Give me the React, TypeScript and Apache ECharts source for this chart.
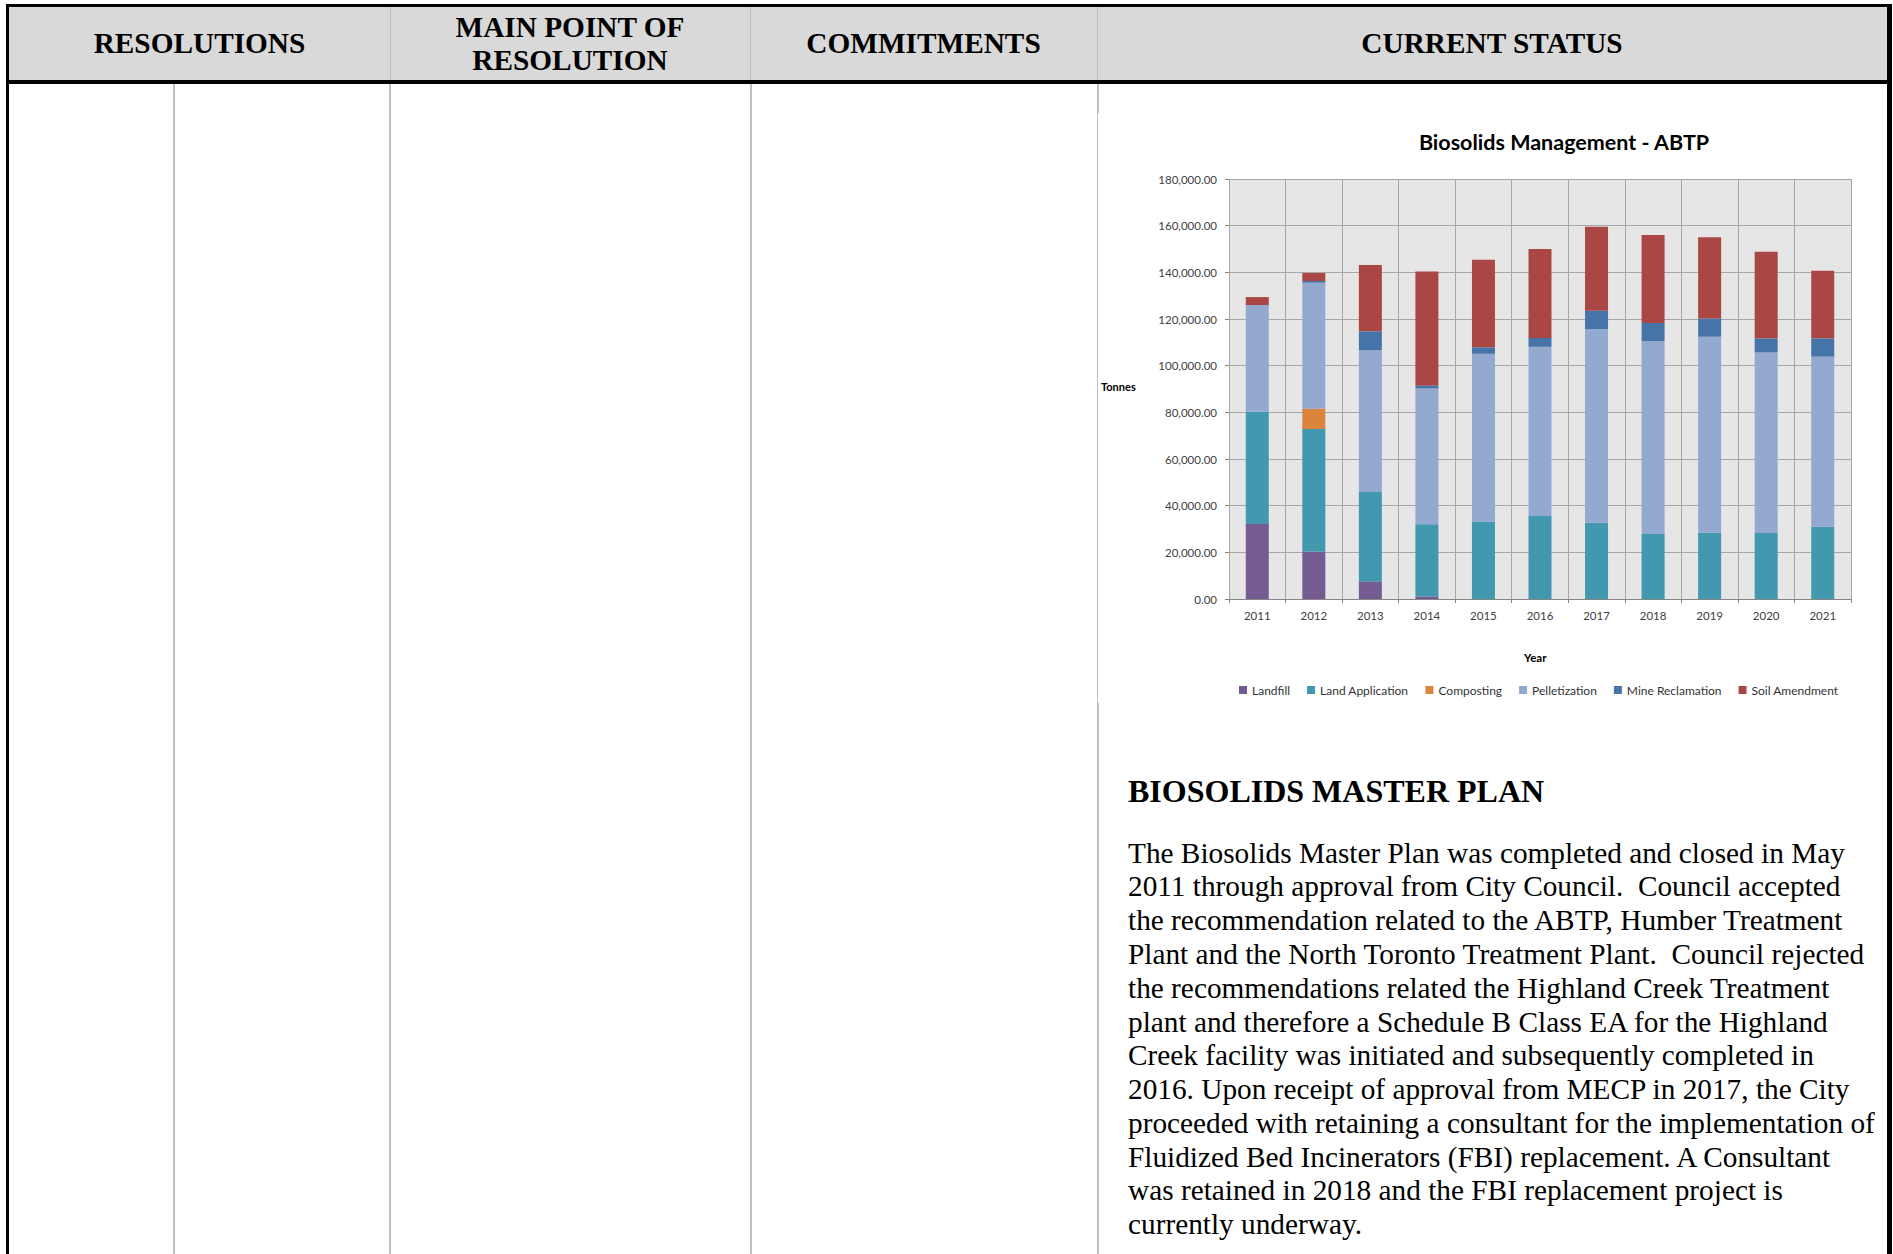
import React, { useEffect, useRef } from "react";
import * as echarts from "echarts";

const years = ["2011", "2012", "2013", "2014", "2015", "2016", "2017", "2018", "2019", "2020", "2021"];
const landfill = [32100, 20400, 7550, 1100, 0, 0, 0, 0, 0, 0, 0];
const landApplication = [48300, 52450, 38300, 30900, 33100, 35550, 32700, 27850, 28400, 28300, 31000];
const composting = [0, 8700, 0, 0, 0, 0, 0, 0, 0, 0, 0];
const pelletization = [45600, 54000, 60700, 58270, 72000, 72550, 82850, 82720, 84000, 77400, 72850];
const mineReclamation = [0, 750, 8150, 1280, 2750, 3750, 8000, 7730, 7860, 6000, 7850];
const soilAmendment = [3400, 3400, 28400, 48850, 37550, 38150, 36000, 37700, 34740, 37150, 29000];

const seriesNames = ["Landfill", "Land Application", "Composting", "Pelletization", "Mine Reclamation", "Soil Amendment"];
const seriesColors = ["#745b91", "#4198af", "#db843d", "#93a9cf", "#4673a8", "#aa4643"];
const seriesData = [landfill, landApplication, composting, pelletization, mineReclamation, soilAmendment];

const headerCols = [
  { left: 9, right: 390, lines: ["RESOLUTIONS"] },
  { left: 390, right: 750, lines: ["MAIN POINT OF", "RESOLUTION"] },
  { left: 750, right: 1097, lines: ["COMMITMENTS"] },
  { left: 1097, right: 1887, lines: ["CURRENT STATUS"] },
];

const paragraphLines = [
  "The Biosolids Master Plan was completed and closed in May",
  "2011 through approval from City Council.  Council accepted",
  "the recommendation related to the ABTP, Humber Treatment",
  "Plant and the North Toronto Treatment Plant.  Council rejected",
  "the recommendations related the Highland Creek Treatment",
  "plant and therefore a Schedule B Class EA for the Highland",
  "Creek facility was initiated and subsequently completed in",
  "2016. Upon receipt of approval from MECP in 2017, the City",
  "proceeded with retaining a consultant for the implementation of",
  "Fluidized Bed Incinerators (FBI) replacement. A Consultant",
  "was retained in 2018 and the FBI replacement project is",
  "currently underway.",
];

const serif = '"Liberation Serif", "Times New Roman", serif';
const chartFont = 'Lato, "Open Sans", sans-serif';

function Chart() {
  const ref = useRef<HTMLDivElement>(null);
  useEffect(() => {
    if (!ref.current) return;
    const chart = echarts.init(ref.current, undefined, { renderer: "svg" });
    chart.setOption({
      animation: false,
      backgroundColor: "#ffffff",
      title: {
        text: "Biosolids Management - ABTP",
        left: 461,
        top: 13,
        textAlign: "center",
        textStyle: { fontFamily: chartFont, fontWeight: "bold", fontSize: 21.5, color: "#000000" },
      },
      legend: {
        data: seriesNames,
        left: 141,
        top: 571,
        padding: 0,
        itemWidth: 8,
        itemHeight: 8,
        itemGap: 17,
        icon: "rect",
        textStyle: { fontFamily: chartFont, fontSize: 12, color: "#333333" },
      },
      graphic: [
        {
          type: "text",
          left: 3,
          top: 268,
          style: { text: "Tonnes", font: `bold 11px ${chartFont}`, fill: "#000000" },
        },
        {
          type: "text",
          left: 426,
          top: 538,
          style: { text: "Year", font: `bold 11.5px ${chartFont}`, fill: "#000000" },
        },
      ],
      grid: {
        left: 131,
        top: 66,
        width: 622,
        height: 420,
        show: true,
        backgroundColor: "#e6e6e6",
        borderWidth: 0,
      },
      xAxis: {
        type: "category",
        data: years,
        axisLine: { show: true, lineStyle: { color: "#868686", width: 1 } },
        axisTick: { show: true, length: 4, lineStyle: { color: "#868686" } },
        axisLabel: { fontFamily: chartFont, fontSize: 11.5, color: "#404040", margin: 10 },
        splitLine: { show: true, lineStyle: { color: "#a6a6a6", width: 1 } },
      },
      yAxis: {
        type: "value",
        min: 0,
        max: 180000,
        interval: 20000,
        axisLine: { show: false },
        axisTick: { show: true, length: 4, lineStyle: { color: "#868686" } },
        axisLabel: {
          fontFamily: chartFont,
          fontSize: 11.5,
          color: "#404040",
          margin: 12,
          formatter: (v: number) => v.toLocaleString("en-US", { minimumFractionDigits: 2, maximumFractionDigits: 2 }),
        },
        splitLine: { show: true, lineStyle: { color: "#a6a6a6", width: 1 } },
      },
      series: seriesNames.map((name, i) => ({
        name,
        type: "bar",
        stack: "total",
        barWidth: 23,
        data: seriesData[i],
        itemStyle: { color: seriesColors[i] },
      })),
    });
    return () => chart.dispose();
  }, []);
  return <div ref={ref} style={{ position: "absolute", left: 1098, top: 113, width: 789, height: 590 }} />;
}

export default function App() {
  return (
    <div
      style={{
        position: "fixed",
        left: 0,
        top: 0,
        width: 1893,
        height: 1254,
        background: "#ffffff",
        overflow: "hidden",
        fontFamily: serif,
      }}
    >
      {/* header background */}
      <div style={{ position: "absolute", left: 9, top: 7, width: 1878, height: 73, background: "#d9d9d9" }} />
      {/* outer borders */}
      <div style={{ position: "absolute", left: 6, top: 4, width: 1886, height: 3, background: "#000" }} />
      <div style={{ position: "absolute", left: 6, top: 4, width: 3, height: 1250, background: "#000" }} />
      <div style={{ position: "absolute", left: 1887, top: 4, width: 5, height: 1250, background: "#000" }} />
      <div style={{ position: "absolute", left: 6, top: 80, width: 1886, height: 4, background: "#000" }} />
      {/* header dividers */}
      {[390, 750, 1097].map((x) => (
        <div key={"h" + x} style={{ position: "absolute", left: x, top: 7, width: 1, height: 73, background: "#bfbfbf" }} />
      ))}
      {/* body dividers */}
      {[173, 389, 750, 1097].map((x) => (
        <div key={"b" + x} style={{ position: "absolute", left: x, top: 84, width: 2, height: 1170, background: "#bfbfbf" }} />
      ))}
      {/* header texts */}
      {headerCols.map((c, i) => (
        <div
          key={i}
          style={{
            position: "absolute",
            left: c.left,
            width: c.right - c.left,
            top: c.lines.length > 1 ? 11 : 27,
            textAlign: "center",
            fontWeight: "bold",
            fontSize: 29.3,
            lineHeight: "33px",
            color: "#000",
          }}
        >
          {c.lines.map((l, j) => (
            <div key={j}>{l}</div>
          ))}
        </div>
      ))}
      <Chart />
      <div
        style={{
          position: "absolute",
          left: 1128,
          top: 772,
          fontWeight: "bold",
          fontSize: 32,
          lineHeight: "38px",
          color: "#000",
          whiteSpace: "pre",
        }}
      >
        BIOSOLIDS MASTER PLAN
      </div>
      <div
        style={{
          position: "absolute",
          left: 1128,
          top: 836.7,
          fontSize: 29.3,
          lineHeight: "33.76px",
          color: "#000",
          whiteSpace: "pre",
        }}
      >
        {paragraphLines.map((l, i) => (
          <div key={i}>{l}</div>
        ))}
      </div>
    </div>
  );
}
